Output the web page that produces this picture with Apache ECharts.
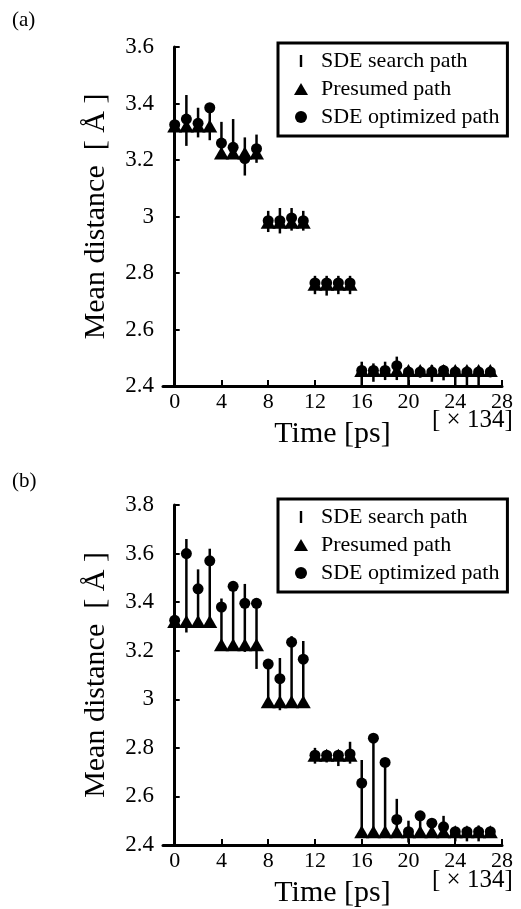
<!DOCTYPE html>
<html>
<head>
<meta charset="utf-8">
<script src="https://cdn.jsdelivr.net/npm/echarts@6/dist/echarts.min.js"></script>
<style>
  html, body { margin: 0; padding: 0; background: #fff; }
  #chart { width: 521px; height: 909px; }
</style>
</head>
<body>
<div id="chart"></div>
<script>
// time steps (x 134)
const times = [0, 1, 2, 3, 4, 5, 6, 7, 8, 9, 10, 11, 12, 13, 14, 15, 16, 17, 18, 19, 20, 21, 22, 23, 24, 25, 26, 27]
const xTicks = [0, 4, 8, 12, 16, 20, 24, 28]

// panel (a)
const presumedA = [3.32, 3.32, 3.32, 3.32, 3.225, 3.225, 3.225, 3.225, 2.98, 2.98, 2.98, 2.98, 2.76, 2.76, 2.76, 2.76,
  2.455, 2.455, 2.455, 2.455, 2.455, 2.455, 2.455, 2.455, 2.455, 2.455, 2.455, 2.455]
const optimizedA = [3.325, 3.345, 3.33, 3.385, 3.26, 3.245, 3.205, 3.24, 2.985, 2.985, 2.995, 2.985, 2.765, 2.765, 2.765, 2.765,
  2.455, 2.455, 2.455, 2.472, 2.45, 2.45, 2.45, 2.455, 2.45, 2.45, 2.45, 2.45]
const searchLowA = [3.31, 3.25, 3.28, 3.27, 3.22, 3.21, 3.145, 3.19, 2.945, 2.94, 2.95, 2.95, 2.725, 2.72, 2.725, 2.725,
  2.403, 2.415, 2.421, 2.421, 2.403, 2.43, 2.415, 2.42, 2.403, 2.403, 2.403, 2.433]
const searchHighA = [3.34, 3.43, 3.385, 3.385, 3.335, 3.345, 3.28, 3.29, 3.02, 3.03, 3.03, 3.02, 2.79, 2.79, 2.79, 2.79,
  2.486, 2.48, 2.486, 2.504, 2.468, 2.47, 2.474, 2.474, 2.468, 2.468, 2.468, 2.462]

// panel (b)
const presumedB = [3.32, 3.32, 3.32, 3.32, 3.225, 3.225, 3.225, 3.225, 2.99, 2.99, 2.99, 2.99, 2.77, 2.77, 2.77, 2.77,
  2.455, 2.455, 2.455, 2.455, 2.455, 2.455, 2.455, 2.455, 2.455, 2.455, 2.455, 2.455]
const optimizedB = [3.325, 3.60, 3.455, 3.57, 3.38, 3.465, 3.395, 3.395, 3.145, 3.085, 3.235, 3.165, 2.77, 2.77, 2.77, 2.775,
  2.655, 2.84, 2.74, 2.505, 2.455, 2.52, 2.49, 2.475, 2.455, 2.455, 2.455, 2.455]
const searchLowB = [3.31, 3.275, 3.31, 3.31, 3.215, 3.215, 3.195, 3.125, 2.97, 2.955, 2.97, 2.97, 2.735, 2.74, 2.725, 2.735,
  2.43, 2.43, 2.44, 2.44, 2.41, 2.44, 2.44, 2.43, 2.415, 2.415, 2.415, 2.44]
const searchHighB = [3.335, 3.66, 3.535, 3.62, 3.415, 3.47, 3.475, 3.40, 3.15, 3.17, 3.26, 3.24, 2.80, 2.79, 2.79, 2.825,
  2.75, 2.84, 2.745, 2.59, 2.50, 2.525, 2.495, 2.52, 2.47, 2.47, 2.48, 2.46]

const FONT = '"Liberation Serif", "Times New Roman", serif'
const names = ['SDE search path', 'Presumed path', 'SDE optimized path']

function xAxisFor(gridIndex) {
  return {
    gridIndex: gridIndex,
    type: 'value',
    min: -1,
    max: 28,
    name: 'Time [ps]',
    nameLocation: 'middle',
    nameGap: 33,
    nameTextStyle: { fontFamily: FONT, fontSize: 30, color: '#000' },
    axisLine: { lineStyle: { color: '#000', width: 3 } },
    axisTick: { inside: true, length: 6, lineStyle: { width: 2, color: '#000' }, customValues: xTicks },
    axisLabel: { fontFamily: FONT, fontSize: 22, color: '#000', margin: 5, customValues: xTicks },
    splitLine: { show: false }
  }
}

function yAxisFor(gridIndex, max) {
  return {
    gridIndex: gridIndex,
    type: 'value',
    min: 2.4,
    max: max,
    interval: 0.2,
    name: 'Mean distance  [ Å ]',
    nameLocation: 'middle',
    nameRotate: 90,
    nameGap: 52,
    nameTextStyle: { fontFamily: FONT, fontSize: 30, color: '#000' },
    axisLine: { show: true, lineStyle: { color: '#000', width: 3 } },
    axisTick: { show: true, inside: true, length: 5, lineStyle: { width: 2, color: '#000' } },
    axisLabel: { fontFamily: FONT, fontSize: 23, color: '#000', margin: 9 },
    splitLine: { show: false }
  }
}

function searchSeries(idx, low, high) {
  return {
    name: names[0],
    type: 'custom',
    xAxisIndex: idx,
    yAxisIndex: idx,
    z: 2,
    itemStyle: { color: '#000' },
    encode: { x: 0, y: [1, 2] },
    data: times.map((t, i) => [t, low[i], high[i]]),
    renderItem: function(params, api) {
      const p1 = api.coord([api.value(0), api.value(1)])
      const p2 = api.coord([api.value(0), api.value(2)])
      return {
        type: 'line',
        shape: { x1: p1[0], y1: p1[1], x2: p2[0], y2: p2[1] },
        style: { stroke: '#000', lineWidth: 2.5 }
      }
    }
  }
}

function pointSeries(idx, name, symbol, size, values) {
  return {
    name: name,
    type: 'scatter',
    xAxisIndex: idx,
    yAxisIndex: idx,
    symbol: symbol,
    symbolSize: size,
    z: 3,
    itemStyle: { color: '#000', opacity: 1 },
    data: times.map((t, i) => [t, values[i]])
  }
}

function legendFor(top) {
  return {
    orient: 'vertical',
    left: 278,
    top: top,
    padding: [7, 8, 8, 16],
    itemGap: 6,
    itemWidth: 14,
    itemHeight: 12,
    borderColor: '#000',
    borderWidth: 3,
    borderRadius: 0,
    textStyle: { fontFamily: FONT, fontSize: 22, color: '#000', padding: [0, 0, 0, 8] },
    data: [
      { name: names[0], icon: 'path://M0,0H2V10H0Z', itemStyle: { color: '#000', opacity: 1 } },
      { name: names[1], icon: 'triangle', itemStyle: { color: '#000', opacity: 1 } },
      { name: names[2], icon: 'circle', itemStyle: { color: '#000', opacity: 1 } }
    ]
  }
}

const chart = echarts.init(document.getElementById('chart'), null, { renderer: 'canvas' })
chart.setOption({
  animation: false,
  backgroundColor: '#fff',
  grid: [
    { left: 163, top: 47, width: 339, height: 339 },
    { left: 163, top: 505, width: 339, height: 341 }
  ],
  xAxis: [xAxisFor(0), xAxisFor(1)],
  yAxis: [yAxisFor(0, 3.6), yAxisFor(1, 3.8)],
  legend: [legendFor(43), legendFor(499)],
  graphic: [
    { type: 'text', left: 12, top: 10, style: { text: '(a)', font: '21px ' + FONT, fill: '#000' } },
    { type: 'text', left: 12, top: 471, style: { text: '(b)', font: '21px ' + FONT, fill: '#000' } },
    { type: 'text', left: 432, top: 408, style: { text: '[ × 134]', font: '25px ' + FONT, fill: '#000' } },
    { type: 'text', left: 432, top: 868, style: { text: '[ × 134]', font: '25px ' + FONT, fill: '#000' } }
  ],
  series: [
    searchSeries(0, searchLowA, searchHighA),
    pointSeries(0, names[1], 'triangle', [15, 13], presumedA),
    pointSeries(0, names[2], 'circle', 11, optimizedA),
    searchSeries(1, searchLowB, searchHighB),
    pointSeries(1, names[1], 'triangle', [15, 13], presumedB),
    pointSeries(1, names[2], 'circle', 11, optimizedB)
  ]
})
</script>
</body>
</html>
